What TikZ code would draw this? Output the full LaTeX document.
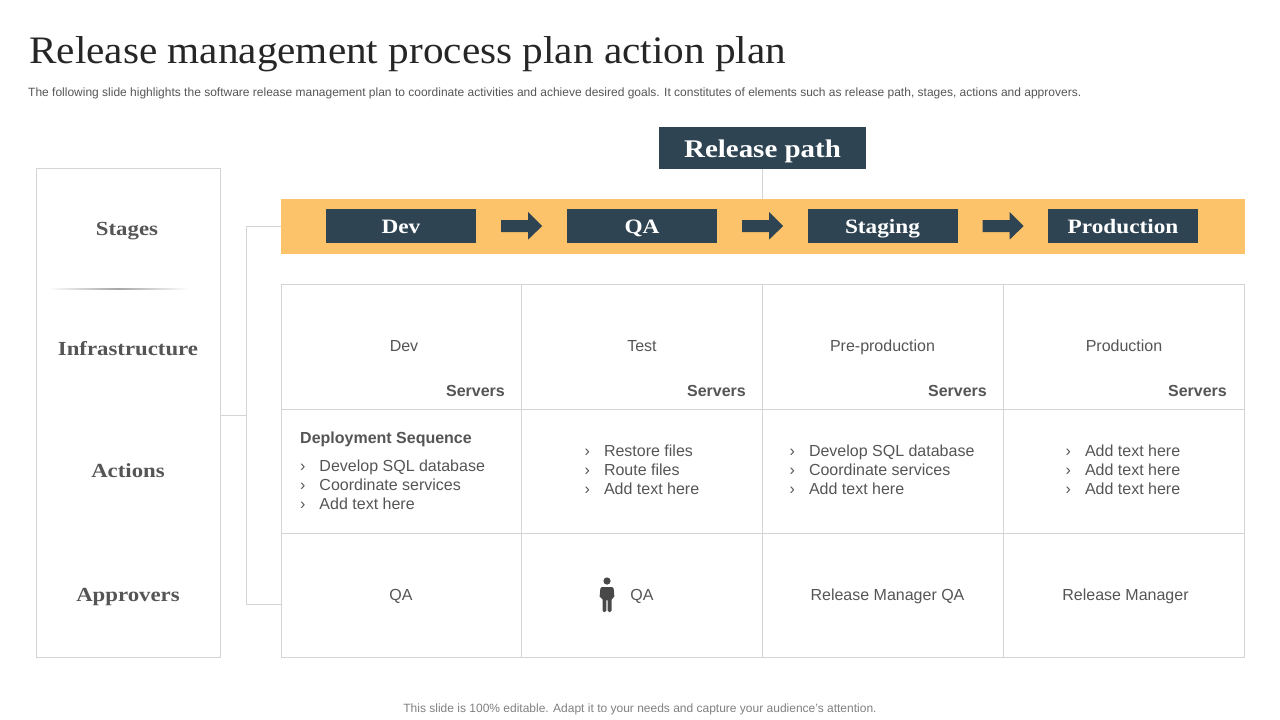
\documentclass[tikz,border=0pt]{standalone}
\usepackage{fontspec}
\setmainfont{Liberation Sans}
\newfontfamily\headfont[FakeStretch=1.06]{Liberation Serif}
\newfontfamily\boldhead[FakeStretch=1.14]{Liberation Serif}
\usetikzlibrary{calc,positioning}
\definecolor{navy}{HTML}{2F4452}
\definecolor{amber}{HTML}{FDC36A}
\definecolor{rulegray}{HTML}{D4D4D4}
\definecolor{inkgray}{HTML}{555555}
\tikzset{
    pathbox/.style={fill=navy,text=white,inner sep=0pt,minimum width=150,minimum height=34,text height=15,text depth=1,font=\boldhead\fontsize{20.4}{21}\selectfont\bfseries},
    rowlabel/.style={anchor=base,text=inkgray,inner sep=0pt,font=\boldhead\fontsize{20}{20}\selectfont\bfseries},
    cell/.style={anchor=base,text=inkgray,inner sep=0pt,font=\fontsize{16}{16}\selectfont},
    srv/.style={cell,anchor=base east,font=\fontsize{16}{16}\selectfont\bfseries},
    listing/.style={cell,anchor=north west,align=left,font=\fontsize{16}{19}\selectfont},
    frame/.style={draw=rulegray,line width=1pt},
}
\newcommand{\chev}{\makebox[19.3pt][l]{›}}
\begin{document}
\begin{tikzpicture}[x=1pt,y=-1pt]
    \useasboundingbox (0,0) rectangle (1280,720);
    % heading
    \node[anchor=base west,inner sep=0pt,text=black!85,font=\headfont\fontsize{38.9}{39}\selectfont] (title) at (29,63) {Release management process plan action plan};
    \node[anchor=west,inner sep=0pt,text=inkgray,font=\fontsize{12}{12}\selectfont] (subtitle) at (28,93.5) {The following slide highlights the software release management plan to coordinate activities and achieve desired goals. It constitutes of elements such as release path, stages, actions and approvers.};
    \node[inner sep=0pt,text=gray,font=\fontsize{12}{12}\selectfont] (footer) at (640,709.5) {This slide is 100\% editable. Adapt it to your needs and capture your audience's attention.};
    % left column
    \node[frame,anchor=north west,inner sep=0pt,minimum width=184,minimum height=489] (rows) at (36,168) {};
    \node[rowlabel] (stages) at (127,235) {Stages};
    \node[rowlabel] (infra) at (128,355) {Infrastructure};
    \node[rowlabel] (actions) at (128,477) {Actions};
    \node[rowlabel] (approvers) at (128,601) {Approvers};
    \shade[left color=white,right color=white,middle color=black!35] (48,288.5) rectangle (188,289.5);
    % release path band
    \node[fill=amber,anchor=north west,inner sep=0pt,minimum width=964,minimum height=55] (band) at (281,199) {};
    \node[fill=navy,text=white,inner sep=0pt,minimum width=207,minimum height=42,text height=19,text depth=1,font=\boldhead\fontsize{25.4}{27}\selectfont\bfseries] (release) at (762.5,148) {Release path};
    \draw[rulegray,line width=1pt] (release.south) -- (release.south |- band.north);
    \node[pathbox] (dev) at (401,226) {Dev};
    \node[pathbox] (qa) at (642,226) {QA};
    \node[pathbox] (staging) at (882.5,226) {Staging};
    \node[pathbox] (production) at (1123,226) {Production};
    \foreach \a/\b in {dev/qa,qa/staging,staging/production}
        \fill[navy] ($(\a.east)+(25,-6)$) -- ++(27,0) -- ++(0,-8) -- ++(14,14) -- ++(-14,13.5) -- ++(0,-7.5) -- ++(-27,0) -- cycle;
    % table
    \node[frame,anchor=north west,inner sep=0pt,minimum width=963.5,minimum height=373] (grid) at (280.5,284) {};
    \foreach \x in {521.5,762.5,1003.5}
        \draw[rulegray,line width=1pt] (\x,284.5) -- (\x,657);
    \foreach \y in {409.5,533.5}
        \draw[rulegray,line width=1pt] (281,\y) -- (1245,\y);
    % connectors
    \coordinate (spine) at (246.5,415.5);
    \draw[rulegray,line width=1pt] (rows.east |- spine) -- (spine);
    \draw[rulegray,line width=1pt] (band.west) -| (spine) |- (281,604.5);
    % infrastructure row
    \node[cell] (c1) at (404,351) {Dev};
    \node[cell] (c2) at (642,351) {Test};
    \node[cell] (c3) at (882.5,351) {Pre-production};
    \node[cell] (c4) at (1124,351) {Production};
    \foreach \x/\n in {505/s1,746/s2,987/s3,1227/s4}
        \node[srv] (\n) at (\x,396) {Servers};
    % actions row
    \node[cell,anchor=base west,font=\fontsize{16}{16}\selectfont\bfseries] (deploy) at (300,443.5) {Deployment Sequence};
    \node[listing] (a1) at (300,459.5) {\chev Develop SQL database\\\chev Coordinate services\\\chev Add text here};
    \node[listing] (a2) at (584.5,444.5) {\chev Restore files\\\chev Route files\\\chev Add text here};
    \node[listing] (a3) at (789.5,444.5) {\chev Develop SQL database\\\chev Coordinate services\\\chev Add text here};
    \node[listing] (a4) at (1065.5,444.5) {\chev Add text here\\\chev Add text here\\\chev Add text here};
    % approvers row
    \node[cell] (p1) at (401,600) {QA};
    \node[cell] (p2) at (642,600) {QA};
    \node[cell] (p3) at (887.5,600) {Release Manager QA};
    \node[cell] (p4) at (1125.5,600) {Release Manager};
    % person
    \fill[inkgray!85!black] (607,581) circle (3.6);
    \fill[inkgray!85!black,rounded corners=1.5] (600.5,587) -- (613.5,587) -- (614.5,598) -- (611.5,598) -- (611.5,612) -- (607.6,612) -- (607.6,599) -- (606.4,599) -- (606.4,612) -- (602.5,612) -- (602.5,598) -- (599.5,598) -- cycle;
\end{tikzpicture}
\end{document}
